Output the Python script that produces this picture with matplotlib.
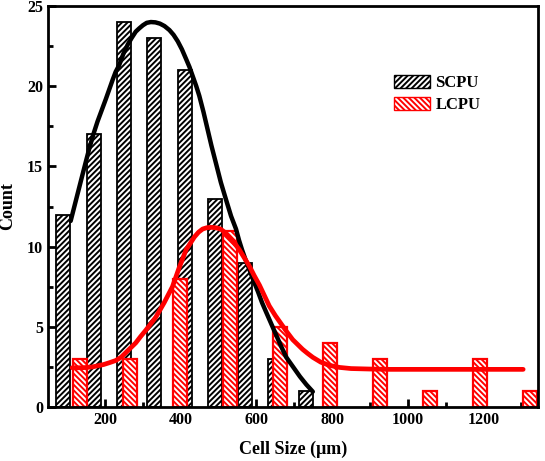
import matplotlib.pyplot as plt
from matplotlib.ticker import MultipleLocator
from matplotlib.patches import Patch

plt.rcParams['font.family'] = ['Liberation Serif', 'DejaVu Serif']
plt.rcParams['font.weight'] = 'bold'
plt.rcParams['hatch.linewidth'] = 1.4

# histogram data
scpu_x = [90, 170, 250, 330, 410, 490, 570, 650, 730]
scpu_count = [12, 17, 24, 23, 21, 13, 9, 3, 1]
lcpu_x = [135, 267, 399, 531, 663, 795, 927, 1059, 1191, 1323]
lcpu_count = [3, 3, 8, 11, 5, 4, 3, 1, 3, 1]

# fit curves
scpu_fit_x = [109, 122, 135, 147, 158, 169, 180, 191, 202, 211, 220, 228, 237, 248, 260, 270,
              281, 290, 300, 310, 321, 333, 345, 357, 370, 381, 392, 403, 414, 423, 432, 441,
              449, 460, 470, 481, 493, 506, 520, 533, 546, 554, 562, 571, 581, 592, 604, 615,
              626, 639, 652, 665, 679, 697, 715, 732, 749]
scpu_fit_y = [11.6, 12.8, 14.0, 15.1, 16.1, 17.0, 17.8, 18.5, 19.2, 19.8, 20.4, 20.9, 21.3,
              22.0, 22.6, 23.0, 23.4, 23.6, 23.8, 23.95, 24.0, 23.98, 23.9, 23.75, 23.5, 23.2,
              22.8, 22.3, 21.7, 21.2, 20.6, 20.0, 19.4, 18.4, 17.4, 16.3, 15.2, 14.0, 12.9,
              11.9, 11.1, 10.4, 9.8, 9.2, 8.6, 7.9, 7.2, 6.5, 5.9, 5.2, 4.5, 3.8, 3.1, 2.5,
              1.9, 1.4, 0.96]
lcpu_fit_x = [113, 140, 166, 196, 212, 228, 242, 255, 268, 281, 294, 308, 321, 334, 345, 356,
              367, 378, 387, 396, 405, 414, 425, 436, 447, 458, 469, 480, 492, 505, 516, 528,
              541, 555, 568, 581, 594, 608, 621, 634, 650, 665, 680, 696, 709, 722, 735, 749,
              770, 793, 820, 850, 900, 950, 1100, 1305]
lcpu_fit_y = [2.45, 2.45, 2.5, 2.65, 2.77, 2.9, 3.1, 3.4, 3.7, 4.0, 4.4, 4.8, 5.2, 5.6, 6.05,
              6.5, 7.0, 7.5, 8.1, 8.7, 9.25, 9.8, 10.2, 10.6, 10.9, 11.1, 11.18, 11.2, 11.18,
              11.1, 10.9, 10.6, 10.25, 9.8, 9.3, 8.8, 8.2, 7.6, 6.95, 6.3, 5.7, 5.2, 4.7, 4.2,
              3.9, 3.6, 3.35, 3.1, 2.8, 2.6, 2.47, 2.4, 2.37, 2.35, 2.35, 2.35]

fig = plt.figure(figsize=(5.45, 4.61), dpi=100)
ax = fig.add_axes([0.088, 0.117, 0.899, 0.870])

ax.bar(scpu_x, scpu_count, width=37, color='white', edgecolor='black',
       hatch='//////', linewidth=1.3, zorder=2)
ax.bar(lcpu_x, lcpu_count, width=37, color='white', edgecolor='red',
       hatch='\\\\\\\\\\\\', linewidth=1.6, zorder=2)
ax.plot(scpu_fit_x, scpu_fit_y, color='black', linewidth=3.2,
        solid_capstyle='round', solid_joinstyle='round', zorder=3)
ax.plot(lcpu_fit_x, lcpu_fit_y, color='red', linewidth=3.4,
        solid_capstyle='round', solid_joinstyle='round', zorder=4)

ax.set_xlim(49, 1344)
ax.set_ylim(0, 25)
ax.xaxis.set_major_locator(MultipleLocator(200))
ax.xaxis.set_minor_locator(MultipleLocator(100))
ax.yaxis.set_major_locator(MultipleLocator(5))
ax.yaxis.set_minor_locator(MultipleLocator(2.5))
ax.tick_params(which='major', direction='in', length=6, width=2, labelsize=11.5)
ax.tick_params(which='minor', direction='in', length=3.5, width=2)
for s in ax.spines.values():
    s.set_linewidth(2)

ax.set_xlabel('Cell Size (μm)', fontsize=13, fontweight='bold', labelpad=9)
ax.set_ylabel('Count', fontsize=13, fontweight='bold', labelpad=8)

handles = [Patch(facecolor='white', edgecolor='black', hatch='//////', label='SCPU'),
           Patch(facecolor='white', edgecolor='red', hatch='\\\\\\\\\\\\', label='LCPU')]
ax.legend(handles=handles, loc='upper left', bbox_to_anchor=(0.675, 0.865), frameon=False,
          prop={'size': 12, 'weight': 'bold'}, handlelength=2.2, handleheight=0.8,
          labelspacing=0.35, handletextpad=0.3)

fig.savefig('out.png', dpi=100)
